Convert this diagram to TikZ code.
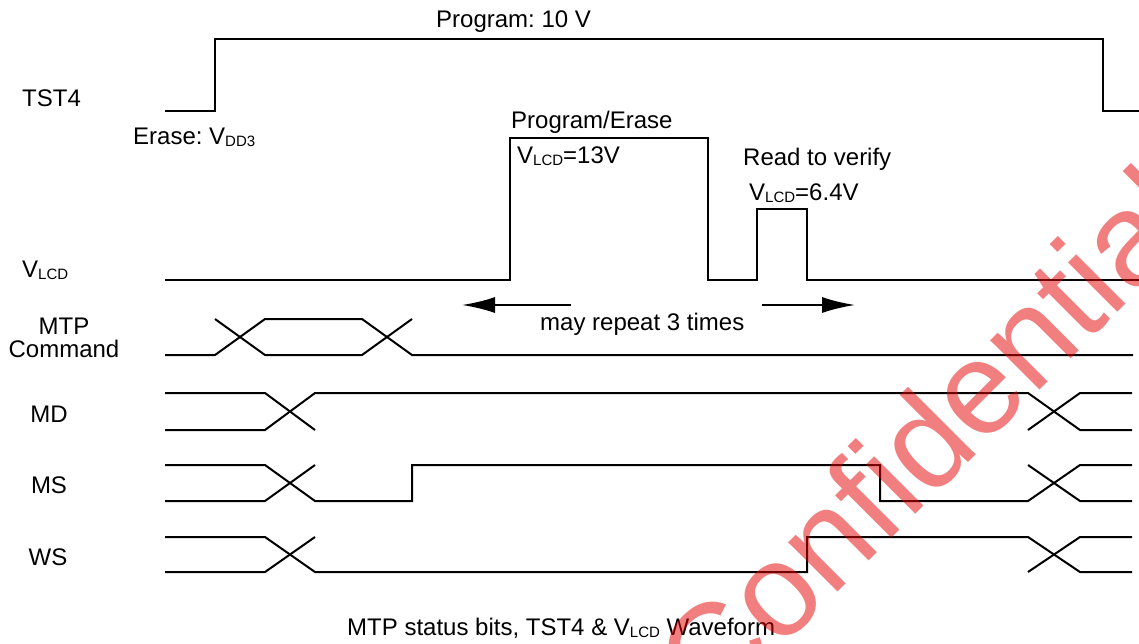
\documentclass[tikz,border=0pt]{standalone}
\usepackage{fontspec}
\setmainfont{Liberation Sans}
\usetikzlibrary{arrows.meta,positioning}
\frenchspacing

\definecolor{stampred}{RGB}{230,0,0}
\newcommand{\lo}[1]{\raisebox{-2pt}{\fontsize{15}{15}\selectfont #1}}

\begin{document}
\begin{tikzpicture}[
    x=1pt, y=-1pt,
    every node/.style={font=\fontsize{24}{23}\selectfont, inner sep=0pt},
    lbl/.style={anchor=base west},
    signame/.style={anchor=base},
    sig/.style={line width=2pt, line join=miter},
    arrow/.style={-{Latex[length=33pt, width=16pt]}, line width=2pt}
]
    \useasboundingbox (0,0) rectangle (1139,643);
    \clip (0,0) rectangle (1139,643);

    % Signal names
    \node[lbl] (tst4) at (22,106) {TST4};
    \node[lbl] (vlcd) at (22,277) {V\lo{LCD}};
    \node[align=center] (mtp) at (64,338) {MTP\\Command};
    \node[signame] (md) at (49,422) {MD};
    \node[signame] (ms) at (49,493) {MS};
    \node[signame] (ws) at (48,565) {WS};

    % TST4
    \draw[sig] (165,111) -- (215,111) -- (215,39) -- (1103,39) -- (1103,111) -- (1139,111);
    \node[lbl] (prog) at (436,27) {Program: 10 V};
    \node[lbl] (erase) at (133,144) {Erase: V\lo{DD3}};

    % VLCD
    \draw[sig] (165,280) -- (510,280) -- (510,138) -- (708,138) -- (708,280) -- (757,280)
        -- (757,209) -- (807,209) -- (807,280) -- (1139,280);
    \node[lbl] (pe) at (511,128) {Program/Erase};
    \node[lbl] (v13) at (517,163) {V\lo{LCD}=13V};
    \node[lbl] (verify) at (743,165) {Read to verify};
    \node[lbl] (v64) at (749,200) {V\lo{LCD}=6.4V};

    % Repeat arrows
    \coordinate (repL) at (571,305);
    \coordinate (repLend) at (462,305);
    \coordinate (repR) at (762,305);
    \coordinate (repRend) at (855,305);
    \draw[arrow] (repL) -- (repLend);
    \draw[arrow] (repR) -- (repRend);
    \node[lbl] (repeat) at (540,330) {may repeat 3 times};

    % MTP command
    \draw[sig] (165,355) -- (215,355) -- (265,319) -- (362,319) -- (412,355) -- (1133,355);
    \draw[sig] (215,319) -- (265,355) -- (362,355) -- (412,319);

    % MD
    \draw[sig] (165,393) -- (265,393) -- (315,430);
    \draw[sig] (165,430) -- (265,430) -- (315,393) -- (1028,393) -- (1080,430) -- (1132,430);
    \draw[sig] (1028,430) -- (1080,393) -- (1132,393);

    % MS
    \draw[sig] (165,465) -- (265,465) -- (315,501) -- (412,501) -- (412,465) -- (880,465)
        -- (880,501) -- (1028,501) -- (1080,465) -- (1132,465);
    \draw[sig] (165,501) -- (265,501) -- (315,465);
    \draw[sig] (1028,465) -- (1080,501) -- (1132,501);

    % WS
    \draw[sig] (165,537) -- (265,537) -- (315,572) -- (807,572) -- (807,537) -- (1028,537)
        -- (1080,572) -- (1132,572);
    \draw[sig] (165,572) -- (265,572) -- (315,537);
    \draw[sig] (1028,572) -- (1080,537) -- (1132,537);

    % Caption
    \node[lbl] (caption) at (347,635) {MTP status bits, TST4 \& V\lo{LCD} Waveform};

    % Stamp
    \node[rotate=45, anchor=base west, font=\fontsize{132}{132}\selectfont,
        text=stampred, text opacity=0.5] (stamp) at (712,718) {Conf\kern0pt idential};
\end{tikzpicture}
\end{document}
